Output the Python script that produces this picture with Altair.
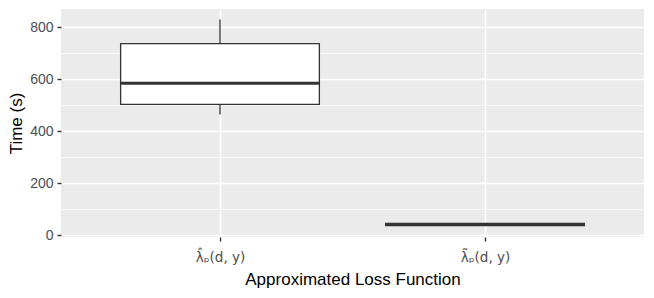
import altair as alt
import pandas as pd

# Box statistics
labels = ["λ̂ₚ(d, y)", "λ̃ₚ(d, y)"]
positions = [1, 2]
lower = [465, 36]
q1 = [504, 38]
median = [585, 42]
q3 = [738, 46]
upper = [831, 48]

y_breaks = [0, 200, 400, 600, 800]
minor_breaks = [100, 300, 500, 700]

half = 0.375
df = pd.DataFrame({
    "label": labels, "pos": positions,
    "left": [p - half for p in positions], "right": [p + half for p in positions],
    "lower": lower, "q1": q1, "median": median, "q3": q3, "upper": upper,
})
minor_df = pd.DataFrame({"v": minor_breaks})

label_expr = "datum.value == 1 ? '%s' : '%s'" % (labels[0], labels[1])

xscale = alt.Scale(domain=[0.4, 2.6], nice=False, zero=False)
yscale = alt.Scale(domain=[-6, 871], nice=False, zero=False)

xaxis = alt.Axis(values=positions, labelExpr=label_expr, title="Approximated Loss Function",
                 grid=True, gridColor="white", gridWidth=1.5, gridOpacity=1, domain=False,
                 tickColor="#333333", tickSize=4, tickWidth=1.4,
                 labelColor="#4D4D4D", labelFontSize=13.5, labelPadding=9,
                 labelFont="DejaVu Sans",
                 titleFontSize=17, titleColor="black", titleFontWeight="normal",
                 titlePadding=8)
yaxis = alt.Axis(values=y_breaks, title="Time (s)",
                 grid=True, gridColor="white", gridWidth=1.5, gridOpacity=1, domain=False,
                 tickColor="#333333", tickSize=4, tickWidth=1.4,
                 labelColor="#4D4D4D", labelFontSize=14, labelPadding=4,
                 titleFontSize=17, titleColor="black", titleFontWeight="normal",
                 titlePadding=4)

base = alt.Chart(df)

minor = alt.Chart(minor_df).mark_rule(color="white", strokeWidth=0.75).encode(
    y=alt.Y("v:Q", scale=yscale, axis=yaxis),
)

whisk_hi = base.mark_rule(color="#333333", strokeWidth=1.3).encode(
    x=alt.X("pos:Q", scale=xscale, axis=xaxis),
    y=alt.Y("q3:Q", scale=yscale, axis=yaxis), y2="upper:Q")
whisk_lo = base.mark_rule(color="#333333", strokeWidth=1.3).encode(
    x=alt.X("pos:Q", scale=xscale, axis=xaxis),
    y=alt.Y("lower:Q", scale=yscale, axis=yaxis), y2="q1:Q")
box = base.mark_rect(fill="white", stroke="#333333", strokeWidth=1.3).encode(
    x=alt.X("left:Q", scale=xscale, axis=xaxis), x2="right:Q",
    y=alt.Y("q1:Q", scale=yscale, axis=yaxis), y2="q3:Q")
med = base.mark_rule(color="#333333", strokeWidth=3).encode(
    x=alt.X("left:Q", scale=xscale, axis=xaxis), x2="right:Q",
    y=alt.Y("median:Q", scale=yscale, axis=yaxis))

chart = alt.layer(minor, whisk_hi, whisk_lo, box, med).properties(
    width=583, height=228,
    autosize=alt.AutoSizeParams(type="none"),
    padding={"left": 53, "top": 1, "right": 2, "bottom": 53},
).configure(font="Liberation Sans").configure_view(fill="#EBEBEB", stroke=None)

chart.save("out.html", embed_options={"renderer": "svg", "actions": False})
